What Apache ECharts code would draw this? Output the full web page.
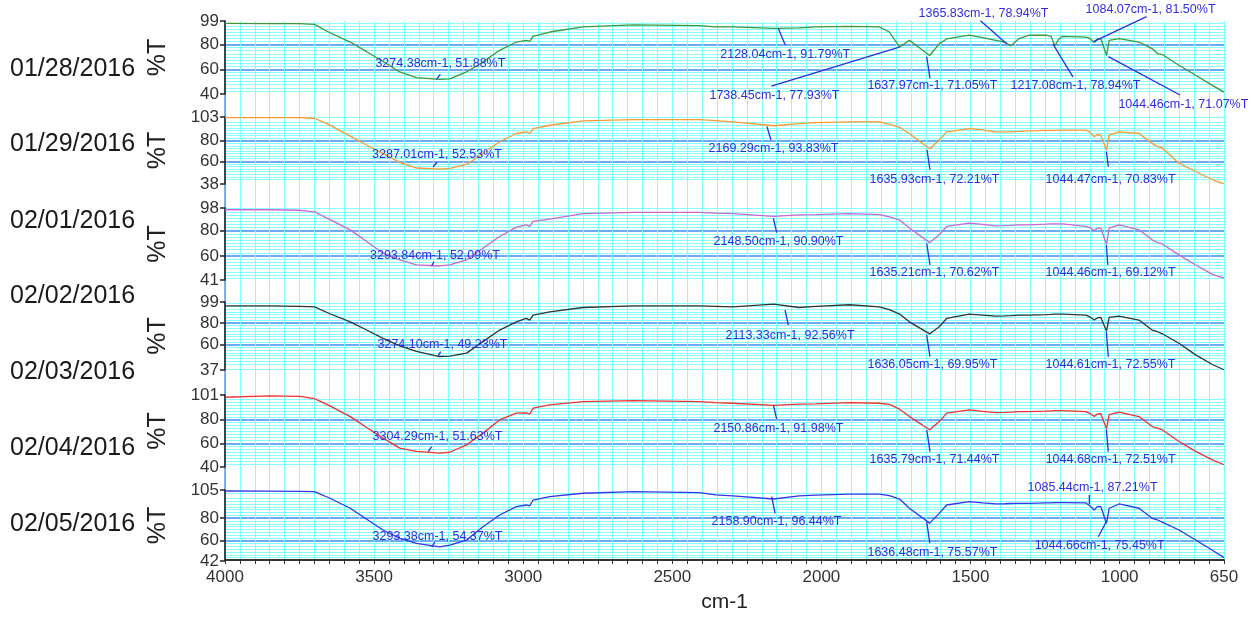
<!DOCTYPE html>
<html><head><meta charset="utf-8">
<script src="https://cdn.jsdelivr.net/npm/echarts@6/dist/echarts.min.js"></script>
<style>html,body{margin:0;padding:0;background:#fff}#c{width:1258px;height:618px}</style>
</head><body><div id="c"></div>
<script>
// ---------------- DATA ----------------
const wavenumbers = [4000, 3850, 3750, 3700, 3650, 3580, 3525, 3470, 3414, 3358, 3280, 3246, 3190, 3135, 3079, 3023, 2990, 2978, 2967, 2911, 2800, 2630, 2410, 2355, 2297, 2160, 2075, 2018, 1906, 1806, 1772, 1738, 1705, 1637, 1605, 1580, 1504, 1460, 1415, 1385, 1365, 1337, 1303, 1247, 1230, 1217, 1205, 1192, 1113, 1100, 1085, 1075, 1063, 1044, 1035, 1002, 935, 891, 873, 857, 801, 745, 689, 650];

const t0128 = [97.0, 96.8, 96.8, 96.3, 89.7, 82, 74.2, 66.3, 57.8, 53.2, 51.9, 52.3, 57.8, 65.9, 75.3, 82, 83.4, 82.6, 86.6, 90.1, 94.2, 95.8, 95.3, 94.2, 94.2, 93.0, 93.5, 94.2, 94.7, 94.2, 90.1, 77.9, 83.4, 71.1, 80.5, 84.5, 87.5, 85.5, 83.4, 82, 78.9, 84.8, 87.5, 87.5, 86.5, 79.0, 84, 86.6, 86.0, 85, 81.5, 84.5, 84.8, 71.1, 83.4, 84.8, 82, 76.7, 72.7, 71.9, 63.2, 55.1, 47, 41.5];
const t0129 = [102.4, 102.4, 102.3, 101.8, 95.3, 84.5, 75.8, 67.5, 59, 53.5, 52.5, 53.2, 57, 67.8, 79, 87, 88.6, 87, 91.8, 95, 99.2, 100.5, 100.5, 99.5, 98.2, 94.5, 96.6, 97.5, 98.2, 98.2, 96, 93, 87, 72.2, 80.6, 88.6, 91.8, 90.5, 88.6, 88.6, 88.6, 89, 89.5, 90, 90, 90, 90.2, 90.2, 90.2, 88.5, 83.8, 86, 85.4, 70.8, 85.4, 88.6, 87, 77.4, 74.2, 73, 58.2, 50.1, 42.1, 38.2];
const t0201 = [96.6, 96.6, 96.2, 95, 89, 80.7, 71.5, 62.2, 56.9, 53, 52.1, 53, 56.9, 66.2, 75.4, 82.9, 84.7, 83.5, 87.4, 89.2, 93.5, 94.5, 94.5, 94, 93.5, 91.3, 92.5, 92.7, 93.5, 92.7, 91, 88.5, 82.1, 70.6, 76.8, 83.4, 86.1, 85, 83.9, 84.1, 84.3, 84.7, 84.7, 85.2, 85.4, 85.5, 85.5, 85.5, 83.4, 82.5, 80.2, 82, 82.1, 69.1, 82.1, 84.7, 80.7, 72.8, 70.7, 69.5, 60.9, 52.9, 45.5, 42.5];
const t0202 = [95.4, 95.4, 95, 94.5, 88.5, 80.9, 73.5, 65.9, 59, 54, 49.3, 49.6, 52.4, 62.9, 73.4, 80.9, 84, 82.5, 87, 90, 94, 95.4, 95.4, 95, 94.5, 97, 94, 95.1, 96.5, 94.5, 92, 88, 80.9, 69.9, 76.4, 84, 87.9, 87, 86.1, 86.3, 86.5, 87, 87, 87.5, 87.7, 87.9, 87.9, 87.9, 87, 85.5, 82.5, 84.5, 84.9, 72.5, 84.9, 86.1, 82.5, 73.4, 71.9, 70, 61.4, 50.8, 42, 37.2];
const t0204 = [99.1, 100.2, 99.9, 98, 92, 82.7, 73.5, 64.5, 56, 53.2, 51.7, 52.5, 58.8, 68.7, 79.9, 85.6, 85.8, 84.9, 89.8, 92.6, 95.4, 96.2, 95.4, 94.5, 94, 92.2, 93.2, 93.4, 94.6, 94, 93, 89, 82.7, 71.5, 78.5, 85.6, 88.4, 87.2, 86.1, 86.3, 86.5, 86.9, 86.9, 87.4, 87.6, 87.7, 87.7, 87.7, 86.9, 85.5, 82.7, 84.8, 85.1, 72.5, 84.4, 86.5, 82.7, 74.3, 72.9, 71.5, 61.6, 53.2, 46, 41.9];
const t0205 = [104.1, 104.0, 103.8, 103.5, 97.9, 88.8, 79, 69.5, 62.1, 57.7, 54.5, 56, 60.6, 72.4, 82.8, 90.2, 91.7, 91, 96.1, 99.1, 102.1, 103.5, 102.6, 100.6, 99.7, 97, 99.7, 100.5, 101.4, 101.4, 100, 97, 88.8, 75.6, 84.3, 91.7, 94.6, 93.5, 92.6, 92.8, 93, 93.2, 93.2, 93.5, 93.6, 93.8, 93.8, 93.8, 93.5, 91, 87.2, 90.2, 90.2, 75.5, 88.8, 92.6, 88.8, 79.9, 78.4, 76.5, 69.5, 60.6, 51.5, 45];

const spectra = [t0128, t0129, t0201, t0202, t0204, t0205];

// annotated peaks [cm-1, %T]
const peaks0128 = [[3274.38, 51.88], [2128.04, 91.79], [1738.45, 77.93], [1637.97, 71.05], [1365.83, 78.94], [1217.08, 78.94], [1084.07, 81.50], [1044.46, 71.07]];
const peaks0129 = [[3287.01, 52.53], [2169.29, 93.83], [1635.93, 72.21], [1044.47, 70.83]];
const peaks0201 = [[3293.84, 52.09], [2148.50, 90.90], [1635.21, 70.62], [1044.46, 69.12]];
const peaks0202 = [[3274.10, 49.23], [2113.33, 92.56], [1636.05, 69.95], [1044.61, 72.55]];
const peaks0204 = [[3304.29, 51.63], [2150.86, 91.98], [1635.79, 71.44], [1044.68, 72.51]];
const peaks0205 = [[3293.38, 54.37], [2158.90, 96.44], [1636.48, 75.57], [1044.66, 75.45], [1085.44, 87.21]];
const peaks = [peaks0128, peaks0129, peaks0201, peaks0202, peaks0204, peaks0205];

const dateLabels = ['01/28/2016', '01/29/2016', '02/01/2016', '02/02/2016', '02/03/2016', '02/04/2016', '02/05/2016'];
const yMin = [40, 38, 41, 37, 40, 42];
const yMax = [99, 103, 98, 99, 101, 105];
const yTickLabels = [[40, 60, 80, 99], [38, 60, 80, 103], [41, 60, 80, 98], [37, 60, 80, 99], [40, 60, 80, 101], [42, 60, 80, 105]];
const xTickLabels = [4000, 3500, 3000, 2500, 2000, 1500, 1000, 650];

// ---------------- LAYOUT / STYLE ----------------
const lineColors = ['#3a9a3a', '#ff9933', '#cc66cc', '#333333', '#ee3333', '#3535e8'];
const annColor = '#2e2ee0';
const gridTops = [21, 117, 208, 302, 395, 490];
const gridHeights = [73, 67, 72, 68, 72, 71];
const dateY = [69, 144, 221, 296, 372, 448, 524];
// per annotation: [textDx, textDy, leaderStartDx, leaderStartDy, leaderEndDx, leaderEndDy] relative to peak point
const annotLayout = [
  [[-1, -16, -5, 0, -1, -5], [2, 25, -5, -1.6, 2, 15], [-125, 48, 0, 0, -128, 39], [3, 30, -2.7, 1, 0.6, 22.7],
   [-27, -32, -4, -2, -30, -25], [20.6, 40, -2, -2, 18, 31], [56, -33.4, -1, -1, 52, -26], [77, 49.4, 2, 1, 73.7, 39.4]],
  [[-0.6, -14, -4.6, -2, -0.6, -7], [2.6, 21.8, -4, 0, 0, 13.5], [4.5, 31.3, -3, 1, 0, 21], [4.2, 29.8, 0, 1.5, 2, 16.5]],
  [[-0.6, -10, -4, 0, -1.6, -4.3], [1.4, 24.7, -3.8, 1.3, -0.4, 15.7], [4.3, 30, -3.5, 0.7, -0.2, 22.4], [4.2, 28.2, 0, 0.5, 1.4, 20.5]],
  [[1, -11.6, -3.8, 0, -0.8, -5], [2.4, 26, -2.6, 1, 0.7, 16], [2.5, 31, -3.3, 1, 0, 22.8], [4.2, 34, 0, 0.7, 2, 25.7]],
  [[5, -16.6, -4.2, -1.6, -0.8, -6.6], [2, 22.7, -3, -0.6, 0.3, 13.7], [4.5, 30, -3.3, 0, 0, 21.8], [4.3, 31.4, 0, 0.7, 2, 23]],
  [[1.8, -10.4, -4, 0, -1, -5], [2.5, 22, -2.3, -3, 1, 13.7], [2.6, 29.5, -3.2, -1.5, 0, 20], [-6.7, 22.4, 0, -1.6, -8, 13.4], [-1.6, -22.7, -4.8, -6, -4.8, -15]]
];
const FONT = '"Liberation Sans", Arial, sans-serif';

// ---------------- OPTION ----------------
const grids = [{left: 225, right: 34, top: 21, height: 540}];
const xAxes = [{
  gridIndex: 0, type: 'value', inverse: true, min: 650, max: 4000, minInterval: 50, maxInterval: 50,
  name: 'cm-1', nameLocation: 'middle', nameGap: 32,
  nameTextStyle: {fontSize: 21, color: '#222', fontFamily: FONT},
  axisLine: {show: true, onZero: false, lineStyle: {color: '#333', width: 2}},
  axisTick: {show: true, length: 4, lineStyle: {color: '#333', width: 1}},
  axisLabel: {customValues: xTickLabels, formatter: v => String(v), fontSize: 17, color: '#333', margin: 9, fontFamily: FONT},
  splitLine: {show: true, lineStyle: {color: '#80ffff', width: 1}}
}];
const yAxes = [{
  gridIndex: 0, type: 'value', min: 0, max: 1,
  axisLine: {show: true, lineStyle: {color: '#5599ee', width: 1.5}},
  axisTick: {show: false}, axisLabel: {show: false}, splitLine: {show: false}
}];
const series = [];

spectra.forEach((vals, i) => {
  const gi = i + 1;
  grids.push({left: 225, right: 34, top: gridTops[i], height: gridHeights[i]});
  xAxes.push({gridIndex: gi, type: 'value', inverse: true, min: 650, max: 4000, show: false});
  yAxes.push({
    gridIndex: gi, type: 'value', min: yMin[i], max: yMax[i], minInterval: 20, maxInterval: 20,
    name: '%T', nameLocation: 'middle', nameRotate: 90, nameGap: 54,
    nameTextStyle: {fontSize: 25, color: '#222', fontFamily: FONT},
    axisLine: {show: true, lineStyle: {color: '#222', width: 1.5}},
    axisTick: {show: true, customValues: yTickLabels[i], length: 5, lineStyle: {color: '#222', width: 1.5}},
    axisLabel: {customValues: yTickLabels[i], formatter: v => String(v), fontSize: 17, color: '#333', margin: 6, fontFamily: FONT},
    splitLine: {show: true, showMinLine: false, showMaxLine: false, lineStyle: {color: '#3d8fee', width: 1.6}},
    minorTick: {show: false, splitNumber: 8},
    minorSplitLine: {show: true, lineStyle: {color: '#88ffff', width: 1}}
  });
  series.push({
    type: 'line', xAxisIndex: gi, yAxisIndex: gi, showSymbol: false, symbol: 'none',
    data: wavenumbers.map((w, k) => [w, vals[k]]),
    lineStyle: {color: lineColors[i], width: 1.3}, z: 3
  });
  series.push({
    type: 'custom', xAxisIndex: gi, yAxisIndex: gi, clip: false, z: 5,
    data: peaks[i],
    renderItem: (params, api) => {
      const x = api.value(0), y = api.value(1);
      const p = api.coord([x, y]);
      const L = annotLayout[i][params.dataIndex];
      return {
        type: 'group', children: [
          {type: 'line', shape: {x1: p[0] + L[2], y1: p[1] + L[3], x2: p[0] + L[4], y2: p[1] + L[5]},
           style: {stroke: annColor, lineWidth: 1.3}},
          {type: 'text', x: p[0] + L[0], y: p[1] + L[1],
           style: {text: x.toFixed(2) + 'cm-1, ' + y.toFixed(2) + '%T', fill: annColor,
                   font: '12.5px ' + FONT, align: 'center', verticalAlign: 'middle'}}
        ]
      };
    }
  });
});

const option = {
  animation: false,
  backgroundColor: '#ffffff',
  textStyle: {fontFamily: FONT},
  grid: grids, xAxis: xAxes, yAxis: yAxes, series: series,
  graphic: dateLabels.map((d, k) => ({
    type: 'text', x: 10, y: dateY[k],
    style: {text: d, font: '25px ' + FONT, fill: '#1a1a1a', verticalAlign: 'middle'}
  }))
};

const chart = echarts.init(document.getElementById('c'), null, {renderer: 'canvas'});
chart.setOption(option);
</script></body></html>
